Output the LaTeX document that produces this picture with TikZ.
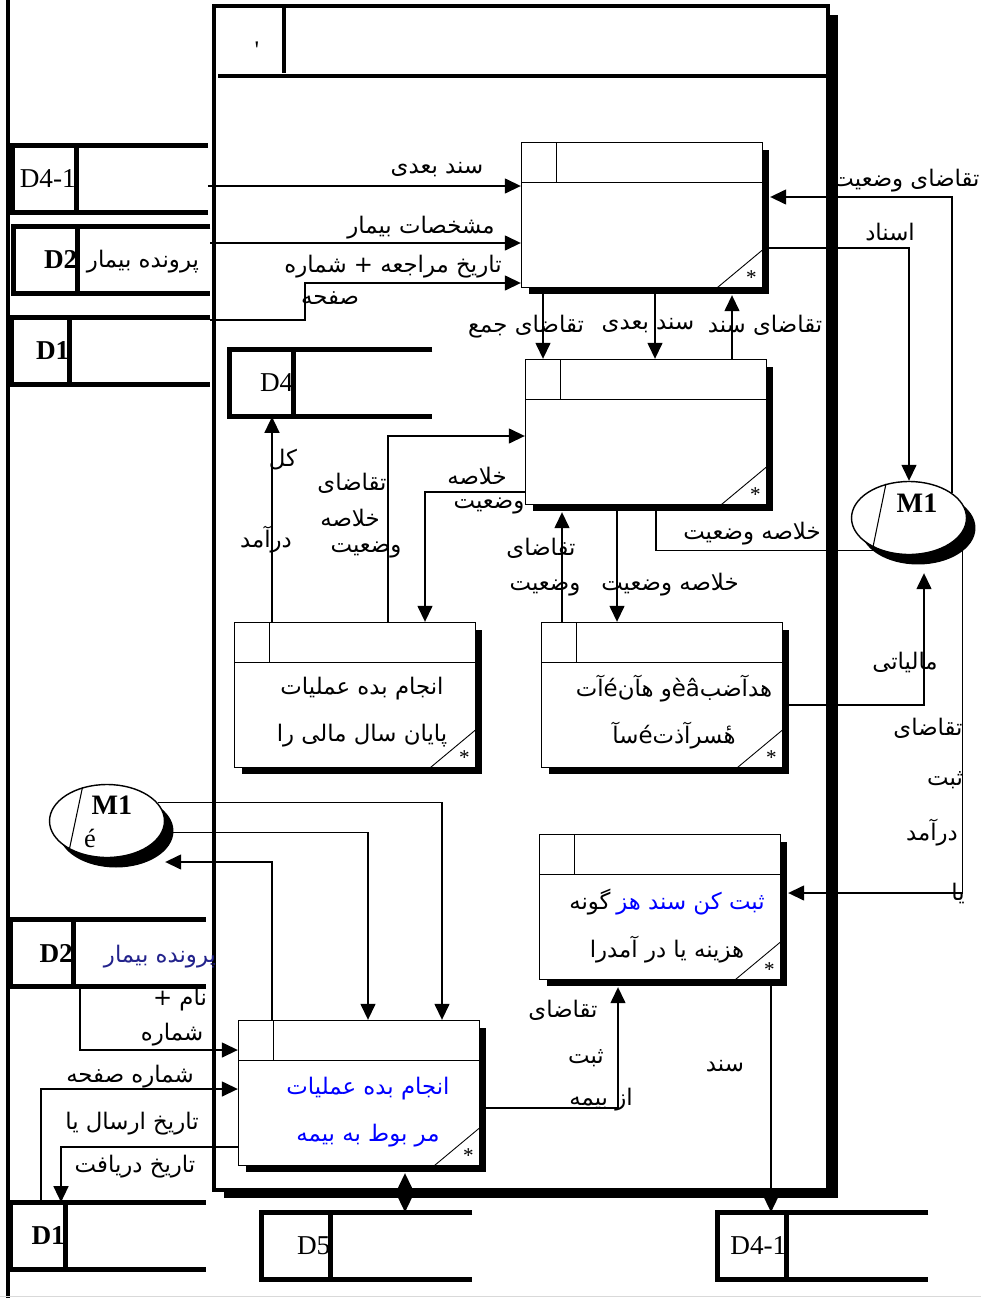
\documentclass[tikz,border=0pt]{standalone}
\usepackage{fontspec}
\setmainfont{Liberation Serif}
\newfontfamily\arabicfont[Script=Arabic]{DejaVu Sans}
\TeXXeTstate=1
\usetikzlibrary{arrows.meta,shapes.geometric,shadows}
\definecolor{navytext}{RGB}{35,35,140}
\newcommand\fatext[1]{{\arabicfont\beginR #1\endR}}
% name, centre, width, divider offset, id, id font
\newcommand\datastore[6]{%
  \node[store, minimum width=#3] (#1) at (#2) {};
  \draw[storeline] (#1.north east) -- (#1.north west) -- (#1.south west) -- (#1.south east);
  \draw[storeline] ([xshift=#4]#1.north west) -- ([xshift=#4]#1.south west);
  \node[storeid, font=#6, anchor=east] (#1id) at ([xshift=#4]#1.west) {#5};
}
\begin{document}
\begin{tikzpicture}[x=0.02cm, y=-0.02cm,
    ctxbox/.style={
        draw, line width=2.3pt, fill=white,
        minimum width=12.28cm, minimum height=23.68cm,
        drop shadow={shadow xshift=0.2cm, shadow yshift=-0.17cm, fill=black, opacity=1}
    },
    process/.style={
        draw, line width=0.8pt, fill=white, inner sep=0pt,
        minimum width=4.82cm, minimum height=2.9cm,
        drop shadow={shadow xshift=0.14cm, shadow yshift=-0.14cm, fill=black, opacity=1},
        path picture={
            \draw[line width=0.8pt] ([yshift=-0.8cm]path picture bounding box.north west) -- ([yshift=-0.8cm]path picture bounding box.north east);
            \draw[line width=0.8pt] ([xshift=0.7cm]path picture bounding box.north west) -- ([xshift=0.7cm,yshift=-0.8cm]path picture bounding box.north west);
            \draw[line width=0.5pt] ([xshift=-0.9cm]path picture bounding box.south east) -- ([yshift=0.75cm]path picture bounding box.south east);
            \node[font=\large] at ([xshift=-0.22cm,yshift=0.2cm]path picture bounding box.south east) {*};
        }
    },
    store/.style={inner sep=0pt, minimum height=1.34cm},
    storeline/.style={line width=2.8pt},
    storeid/.style={inner sep=0pt, font=\fontsize{15.5}{18}\selectfont},
    mstore/.style={
        ellipse, draw, line width=0.8pt, fill=white, inner sep=0pt,
        minimum width=2.3cm, minimum height=1.46cm,
        drop shadow={shadow xshift=0.18cm, shadow yshift=-0.2cm, fill=black, opacity=1}
    },
    flow/.style={line width=0.8pt, -{Triangle[length=0.32cm, width=0.3cm]}},
    twoway/.style={line width=0.8pt, {Triangle[length=0.32cm, width=0.3cm]}-{Triangle[length=0.32cm, width=0.3cm]}},
    plain/.style={line width=0.6pt},
    lab/.style={inner sep=0pt, font=\fontsize{13}{16}\selectfont},
    ptext/.style={align=center, inner sep=0pt, font=\fontsize{13}{27}\selectfont}
]
\useasboundingbox[fill=white] (0,0) rectangle (981,1298);

% context box
\node[ctxbox] (ctx) at (521,598) {};
\draw[line width=2.3pt] ([xshift=0.12cm,yshift=-1.44cm]ctx.north west) -- ([yshift=-1.44cm]ctx.north east);
\draw[line width=2.3pt] ([xshift=1.44cm]ctx.north west) -- ([xshift=1.44cm,yshift=-1.38cm]ctx.north west);
\node[font=\Large] (ctxmark) at (257,50) {\textquotesingle};
\draw[line width=2.8pt] (8,0) -- (8,1298);
\draw[gray!30] (0,1296) -- (981,1296);

% data stores
\datastore{d41top}{110,179}{3.9cm}{1.28cm}{D4-1}{\fontsize{15.5}{18}\selectfont}
\datastore{d2top}{112,260}{3.92cm}{1.28cm}{D2}{\fontsize{15.5}{18}\selectfont\bfseries}
\datastore{d1top}{111,351}{3.96cm}{1.16cm}{D1}{\fontsize{15.5}{18}\selectfont\bfseries}
\datastore{d4}{331,383}{4.04cm}{1.28cm}{D4}{\fontsize{15.5}{18}\selectfont}
\datastore{d2bot}{108,953}{3.9cm}{1.26cm}{D2}{\fontsize{15.5}{18}\selectfont\bfseries}
\datastore{d1bot}{108,1236}{3.9cm}{1.1cm}{D1}{\fontsize{15.5}{18}\selectfont\bfseries}
\datastore{d5}{367,1246}{4.2cm}{1.38cm}{D5}{\fontsize{15.5}{18}\selectfont}
\datastore{d41bot}{823,1246}{4.2cm}{1.38cm}{D4-1}{\fontsize{15.5}{18}\selectfont}
\node[lab] (d2topname) at (143,262) {\fatext{پرونده بیمار}};
\node[lab, text=navytext] (d2botname) at (160,957) {\fatext{پرونده بیمار}};

% processes
\node[process] (p1) at (642,215) {};
\node[process] (p2) at (646,432) {};
\node[process] (p3) at (355,695) {};
\node[process] (p4) at (662,695) {};
\node[process] (p5) at (660,907) {};
\node[process] (p6) at (359,1093) {};
\node[ptext] (p3t) at (362,712) {\fatext{انجام بده عملیات}\\\fatext{پایان سال مالی را}};
\node[ptext] (p4t) at (674,712) {\fatext{هدآضبèâو هآنéآت}\\\fatext{هٔسرآذتéسآ}};
\node[ptext] (p5t) at (667,926) {\fatext{گونه} {\color{blue}\fatext{ثبت کن سند هز}}\\\fatext{هزینه یا در آمدرا}};
\node[ptext, text=blue] (p6t) at (368,1112) {\fatext{انجام بده عملیات}\\\fatext{مر بوط به بیمه}};

% M1 stores
\node[mstore] (m1r) at (909,518) {};
\draw[plain] (m1r.124) -- (m1r.219);
\node[font=\fontsize{16}{18}\selectfont\bfseries] (m1rid) at (917,503) {M1};
\node[mstore] (m1l) at (107,821) {};
\draw[plain] (m1l.126) -- (m1l.217);
\node[font=\fontsize{16}{18}\selectfont\bfseries] (m1lid) at (112,805) {M1};
\node[font=\fontsize{15}{18}\selectfont] (m1lsub) at (90,838) {é};

% flows around p1
\draw[flow] (d41top.east |- 0,186) -- (p1.west |- 0,186);
\draw[flow] (d2top.east |- 0,243) -- (p1.west |- 0,243);
\draw[flow] (d1top.east |- 0,320) -| (305,283) -- (p1.west |- 0,283);
\draw[flow] (m1r.30) |- ([xshift=0.14cm]p1.east |- 0,197);
\draw[flow] (p1.east |- 0,248) -| (m1r.north);
\draw[flow] (p1.south -| 543,0) -- (p2.north -| 543,0);
\draw[flow] (p1.south -| 655,0) -- (p2.north -| 655,0);
\draw[flow] (p2.north -| 732,0) -- ([yshift=-0.14cm]p1.south -| 732,0);

% flows around p2
\draw[plain] (p2.south -| 656,0) |- (m1r.-130);
\draw[flow] (p3.north -| 272,0) -- (d4.south -| 272,0);
\draw[flow] (p3.north -| 388,0) |- (p2.west |- 0,436);
\draw[flow] (p2.west |- 0,492) -| (p3.north -| 425,0);
\draw[flow] (p4.north -| 562,0) -- ([yshift=-0.14cm]p2.south -| 562,0);
\draw[flow] (p2.south -| 617,0) -- (p4.north -| 617,0);
\draw[flow] (p4.east |- 0,705) -| ([shift={(0.3cm,-0.36cm)}]m1r.south);
\draw[flow] (m1r.-15) |- ([xshift=0.14cm]p5.east |- 0,893);

% flows around p6
\draw[flow] (m1l.20) -| (p6.north -| 442,0);
\draw[flow] (m1l.-12) -| (p6.north -| 368,0);
\draw[flow] (p6.north -| 272,0) |- ([yshift=-0.82cm]m1l.east);
\draw[flow] (d2bot.south -| 80,0) |- (p6.west |- 0,1050);
\draw[flow] (d1bot.north -| 41,0) |- (p6.west |- 0,1089);
\draw[flow] (p6.west |- 0,1147) -| (d1bot.north -| 61,0);
\draw[twoway] ([yshift=-0.14cm]p6.south -| 405,0) -- (d5.north -| 405,0);
\draw[flow] (p6.east |- 0,1108) -| ([yshift=-0.14cm]p5.south -| 618,0);
\draw[flow] (p5.south -| 771,0) -- (d41bot.north -| 771,0);

% labels
\node[lab] (l1) at (437,170) {\fatext{سند بعدی}};
\node[lab] (l2) at (421,228) {\fatext{مشخصات بیمار}};
\node[lab] (l3) at (393,267) {\fatext{تاریخ مراجعه + شماره}};
\node[lab] (l4) at (330,298) {\fatext{صفحه}};
\node[lab] (l5) at (906,181) {\fatext{تقاضای وضعیت}};
\node[lab] (l6) at (890,232) {\fatext{اسناد}};
\node[lab] (l7) at (526,327) {\fatext{تقاضای جمع}};
\node[lab] (l8) at (648,326) {\fatext{سند بعدی}};
\node[lab] (l9) at (765,325) {\fatext{تقاضای سند}};
\node[lab] (l10) at (283,460) {\fatext{کل}};
\node[lab] (l11) at (266,540) {\fatext{درآمد}};
\node[lab] (l12) at (352,483) {\fatext{تقاضای}};
\node[lab] (l13) at (350,518) {\fatext{خلاصه}};
\node[lab] (l14) at (366,550) {\fatext{وضعیت}};
\node[lab] (l15) at (477,476) {\fatext{خلاصه}};
\node[lab] (l16) at (489,506) {\fatext{وضعیت}};
\node[lab] (l17) at (541,548) {\fatext{تقاضای}};
\node[lab] (l18) at (545,588) {\fatext{وضعیت}};
\node[lab] (l19) at (670,585) {\fatext{خلاصه وضعیت}};
\node[lab] (l20) at (752,534) {\fatext{خلاصه وضعیت}};
\node[lab] (l21) at (905,662) {\fatext{مالیاتی}};
\node[lab] (l22) at (928,728) {\fatext{تقاضای}};
\node[lab] (l23) at (945,780) {\fatext{ثبت}};
\node[lab] (l24) at (932,833) {\fatext{درآمد}};
\node[lab] (l25) at (958,893) {\fatext{یا}};
\node[lab] (l26) at (180,1000) {\fatext{نام +}};
\node[lab] (l27) at (172,1035) {\fatext{شماره}};
\node[lab] (l28) at (130,1077) {\fatext{شماره صفحه}};
\node[lab] (l29) at (132,1124) {\fatext{تاریخ ارسال یا}};
\node[lab] (l30) at (135,1167) {\fatext{تاریخ دریافت}};
\node[lab] (l31) at (563,1010) {\fatext{تقاضای}};
\node[lab] (l32) at (586,1058) {\fatext{ثبت}};
\node[lab] (l33) at (601,1100) {\fatext{از بیمه}};
\node[lab] (l34) at (725,1066) {\fatext{سند}};
\end{tikzpicture}
\end{document}
